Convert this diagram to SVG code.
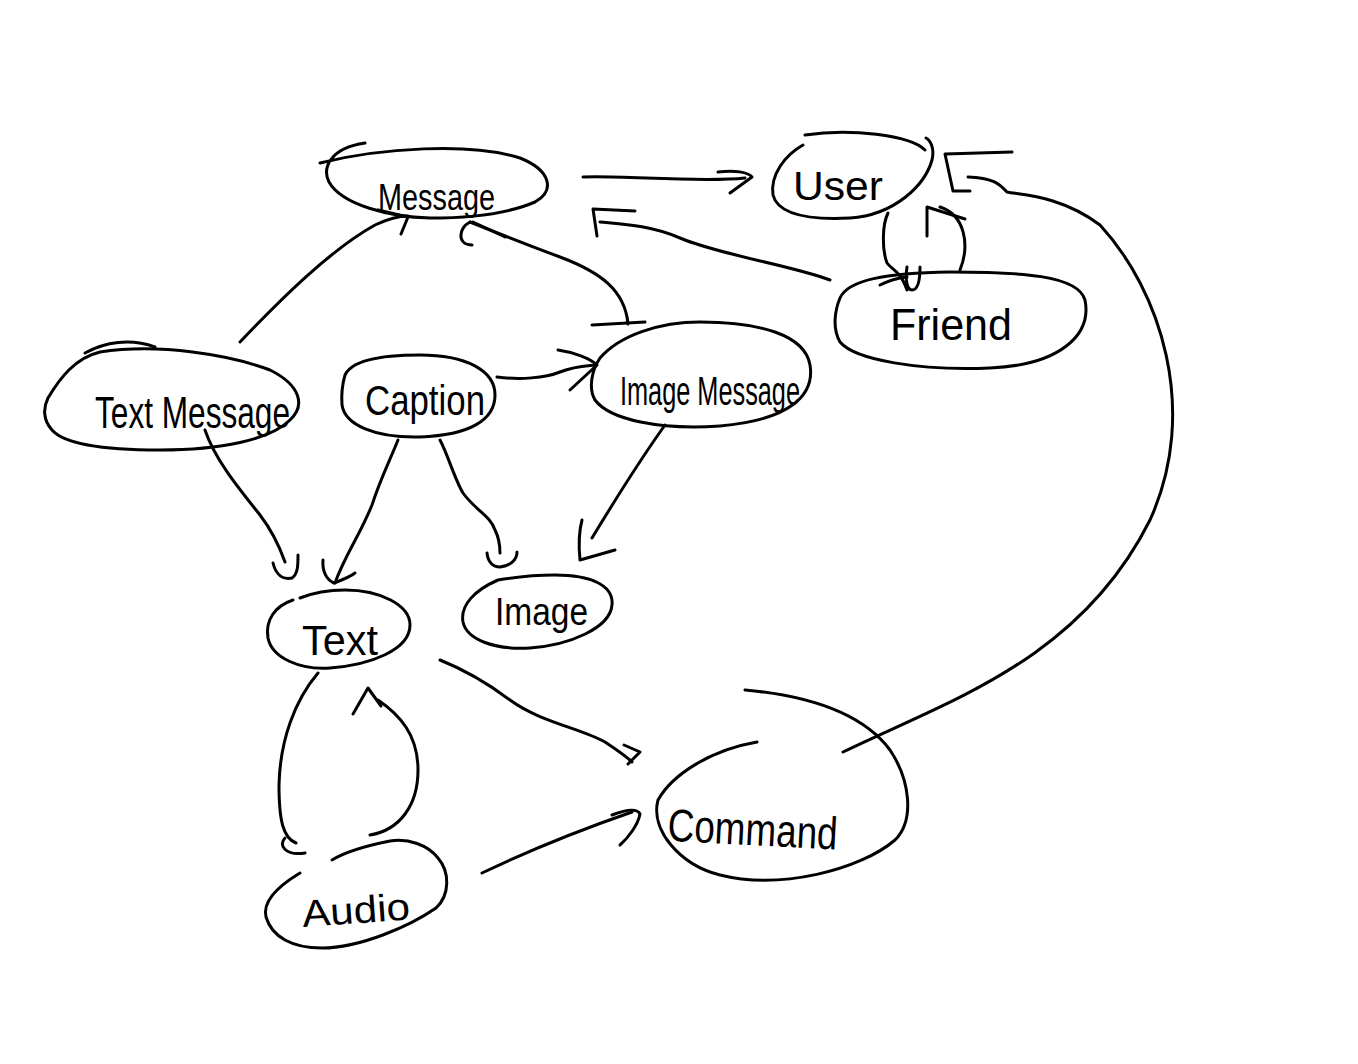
<svg xmlns="http://www.w3.org/2000/svg" width="1358" height="1064" viewBox="0 0 1358 1064">
<style>
.s{fill:none;stroke:#000;stroke-width:3;stroke-linecap:round;stroke-linejoin:round}
.t{font-family:"Liberation Sans",Arial,sans-serif;fill:#000;font-weight:normal}
</style>
<rect width="1358" height="1064" fill="#fff"/>
<g id="connectors">
  <!-- Message -> User -->
  <path class="s" d="M583,177 C620,175 700,183 745,178"/>
  <path class="s" d="M718,172 C735,170 748,172 752,177 L730,193"/>
  <!-- Friend -> Message -->
  <path class="s" d="M830,280 C790,265 720,255 680,238 C650,225 620,224 600,222"/>
  <path class="s" d="M635,211 L593,209 L597,236"/>
  <!-- Command -> User -->
  <path class="s" d="M843,752 C950,700 1080,660 1150,520 C1200,410 1160,290 1100,225 C1060,195 1020,195 1007,192 C1000,185 995,178 968,177"/>
  <path class="s" d="M1012,152 L945,154 L953,191 L970,191"/>
  <!-- User <-> Friend -->
  <path class="s" d="M888,213 C882,225 882,250 887,263 C892,270 900,270 907,290"/>
  <path class="s" d="M907,267 C905,280 907,290 912,290 C918,290 920,280 920,267"/>
  <path class="s" d="M880,285 C890,280 898,278 907,277"/>
  <path class="s" d="M960,270 C970,245 965,215 940,207"/>
  <path class="s" d="M927,236 L927,207 L965,219"/>
  <!-- Text Message -> Message -->
  <path class="s" d="M240,342 C280,300 330,250 375,225 C390,218 400,216 408,216"/>
  <path class="s" d="M378,210 L408,217 L401,234"/>
  <!-- Image Message -> Message -->
  <path class="s" d="M628,324 C625,290 600,272 560,257 C520,242 490,230 470,222"/>
  <path class="s" d="M470,222 C458,228 457,245 472,245"/>
  <path class="s" d="M473,222 L505,237"/>
  <!-- Caption -> Image Message -->
  <path class="s" d="M497,377 C520,380 545,378 560,372 C575,366 585,366 595,365"/>
  <path class="s" d="M558,350 C572,352 590,358 597,365 L570,390"/>
  <!-- Text Message -> Text -->
  <path class="s" d="M205,430 C215,460 240,490 260,515 C273,532 280,548 285,562"/>
  <path class="s" d="M273,563 C276,575 283,580 292,578 C298,574 298,565 298,555"/>
  <!-- Caption -> Text -->
  <path class="s" d="M398,440 C390,460 380,480 372,505 C360,535 345,555 335,583"/>
  <path class="s" d="M323,560 C322,572 327,580 334,583 C342,580 350,577 355,573"/>
  <!-- Caption -> Image -->
  <path class="s" d="M440,440 C448,455 455,480 463,493 C475,510 490,515 495,530 C500,540 500,548 500,553"/>
  <path class="s" d="M487,553 C488,562 493,567 500,567 C510,566 517,560 517,552"/>
  <!-- Image Message -> Image -->
  <path class="s" d="M665,425 C640,460 615,500 592,538"/>
  <path class="s" d="M582,520 C578,535 579,550 580,560 L615,550"/>
  <!-- Text -> Command -->
  <path class="s" d="M440,660 C470,672 490,685 510,700 C540,722 580,728 605,742 C620,752 628,758 632,762"/>
  <path class="s" d="M624,745 L640,752 L628,764"/>
  <!-- Audio -> Command -->
  <path class="s" d="M482,873 C530,850 580,830 632,812"/>
  <path class="s" d="M612,815 C625,810 637,808 640,814 C638,825 628,838 620,845"/>
  <!-- Text -> Audio -->
  <path class="s" d="M318,673 C295,700 280,740 279,785 C279,820 283,838 296,843"/>
  <path class="s" d="M285,838 C278,845 285,856 305,853"/>
  <!-- Audio -> Text -->
  <path class="s" d="M370,835 C400,830 418,805 418,770 C418,735 400,715 378,700"/>
  <path class="s" d="M353,714 L368,688 L381,706"/>
</g>
<g id="node-message">
  <path class="s" d="M320,163 C380,148 470,142 520,158 C550,170 556,190 535,202 C505,215 465,218 430,218 C390,217 342,205 329,182 C322,168 330,148 365,143"/>
  <text class="t" x="378" y="210" font-size="36" textLength="117" lengthAdjust="spacingAndGlyphs">Message</text>
</g>
<g id="node-user">
  <path class="s" d="M805,135 C850,128 910,135 925,150"/>
  <path class="s" d="M803,145 C785,155 770,175 773,195 C778,215 810,220 850,218 C895,215 925,185 932,160 C935,148 930,140 926,138"/>
  <text class="t" x="793" y="200" font-size="40" textLength="90" lengthAdjust="spacingAndGlyphs">User</text>
</g>
<g id="node-friend">
  <path class="s" d="M840,298 C848,280 885,273 950,272 C1020,272 1078,275 1085,300 C1092,335 1060,365 990,368 C920,371 855,360 840,342 C832,328 835,310 840,298 Z"/>
  <text class="t" x="890" y="340" font-size="44" textLength="122" lengthAdjust="spacingAndGlyphs">Friend</text>
</g>
<g id="node-text-message">
  <path class="s" d="M85,353 C105,342 130,338 155,347"/>
  <path class="s" d="M48,398 C60,378 75,358 100,352 C160,343 230,355 270,370 C300,385 306,405 290,420 C270,440 220,450 160,450 C110,450 65,445 52,430 C43,420 43,408 48,398 Z"/>
  <text class="t" x="95" y="428" font-size="44" textLength="195" lengthAdjust="spacingAndGlyphs">Text Message</text>
</g>
<g id="node-caption">
  <path class="s" d="M345,375 C352,360 380,355 420,355 C465,355 495,370 495,395 C495,420 470,435 420,437 C375,438 345,425 342,405 C341,392 343,382 345,375 Z"/>
  <text class="t" x="365" y="415" font-size="42" textLength="120" lengthAdjust="spacingAndGlyphs">Caption</text>
</g>
<g id="node-image-message">
  <path class="s" d="M592,325 L645,322"/>
  <path class="s" d="M600,358 C620,335 660,322 700,322 C760,322 805,335 810,365 C815,395 790,420 720,426 C660,430 610,420 595,400 C588,388 592,370 600,358 Z"/>
  <text class="t" x="620" y="405" font-size="40" textLength="180" lengthAdjust="spacingAndGlyphs">Image Message</text>
</g>
<g id="node-text">
  <path class="s" d="M293,600 C275,606 265,620 268,638 C272,658 300,670 330,668 C370,665 410,650 410,625 C410,605 380,590 345,590 C325,590 310,594 300,598"/>
  <text class="t" x="302" y="655" font-size="42" textLength="76" lengthAdjust="spacingAndGlyphs">Text</text>
</g>
<g id="node-image">
  <path class="s" d="M498,580 C475,590 460,605 463,622 C467,640 495,650 530,648 C570,645 610,628 612,605 C614,585 590,575 555,575 C530,575 510,578 498,580 Z"/>
  <text class="t" x="495" y="625" font-size="38" textLength="93" lengthAdjust="spacingAndGlyphs">Image</text>
</g>
<g id="node-audio">
  <path class="s" d="M300,873 C280,885 262,900 266,917 C272,937 292,948 322,948 C360,948 410,926 436,908 C450,895 450,872 438,858 C428,845 408,838 390,841 C365,846 345,852 332,860"/>
  <text class="t" x="303" y="927" font-size="38" textLength="108" lengthAdjust="spacingAndGlyphs" transform="rotate(-4 303 927)">Audio</text>
</g>
<g id="node-command">
  <path class="s" d="M757,742 C710,750 672,775 658,800 C650,830 680,865 720,875 C780,890 860,870 895,840 C915,820 910,780 890,750 C860,710 800,695 745,690"/>
  <text class="t" x="668" y="845" font-size="46" textLength="170" lengthAdjust="spacingAndGlyphs" transform="rotate(3 750 825)">Command</text>
</g>
</svg>
